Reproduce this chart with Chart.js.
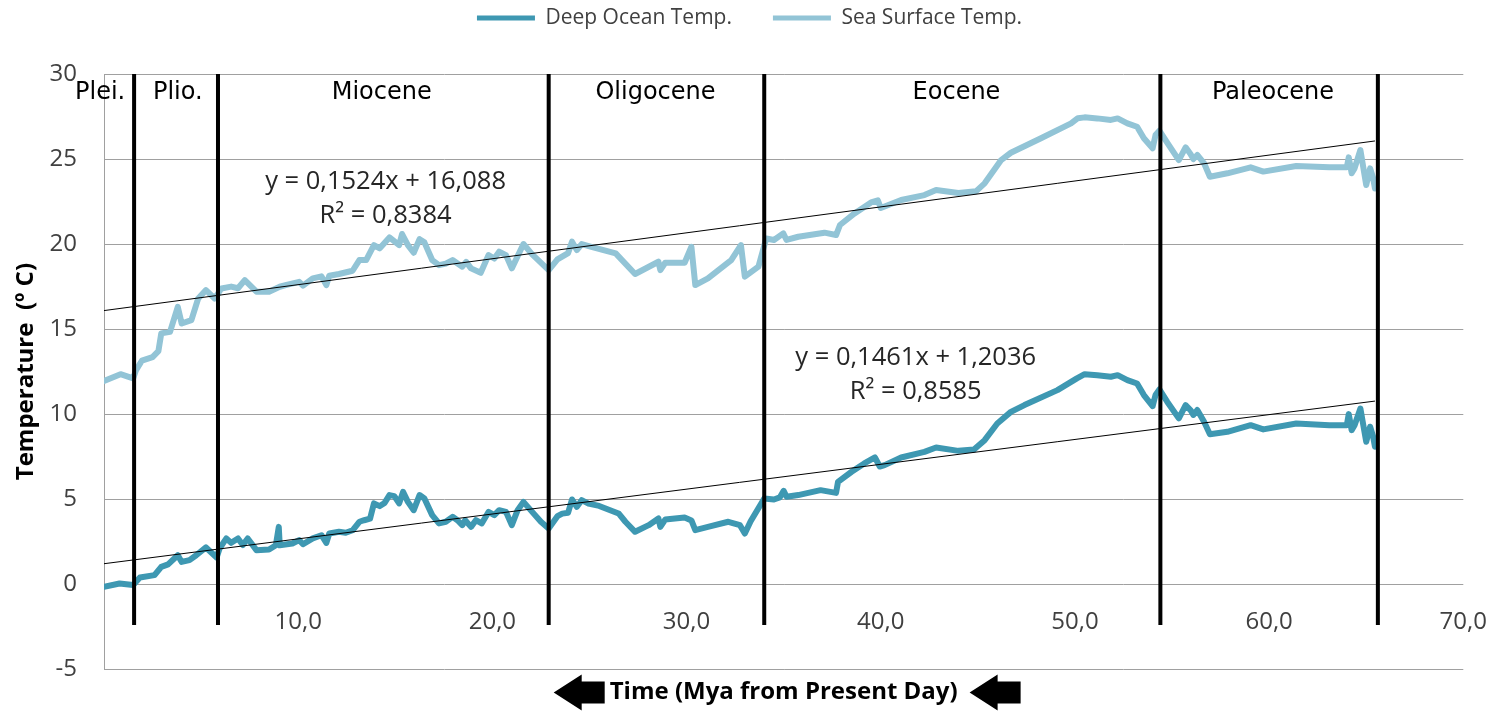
<!DOCTYPE html>
<html>
<head>
<meta charset="utf-8">
<script src="https://cdn.jsdelivr.net/npm/chart.js@4.4.1/dist/chart.umd.min.js"></script>
<style>
  html, body { margin: 0; padding: 0; background: #ffffff; }
  #wrap { width: 1511px; height: 720px; position: relative; }
</style>
</head>
<body>
<div id="wrap"><canvas id="chart"></canvas></div>
<script>
// Cenozoic temperature record (age in Mya, temperature in °C)
const seriesNames = ['Deep Ocean Temp.', 'Sea Surface Temp.'];

const dotAge = [0.0, 0.8, 1.5, 1.85, 2.6, 2.95, 3.3, 3.8, 4.0, 4.4, 4.75, 5.25, 5.8, 5.95, 6.3, 6.55, 6.9, 7.15, 7.4, 7.85,
  8.5, 8.85, 9.0, 9.05, 9.7, 10.05, 10.25, 10.75, 11.2, 11.45, 11.6, 12.1, 12.45, 12.8, 13.15, 13.4, 13.7, 13.9, 14.2, 14.45,
  14.7, 14.95, 15.2, 15.4, 15.65, 15.95, 16.25, 16.5, 16.9, 17.25, 17.6, 17.95, 18.2, 18.45, 18.6, 18.9, 19.15, 19.45, 19.8, 20.1,
  20.35, 20.7, 21.0, 21.3, 21.6, 22.05, 22.5, 22.9, 23.35, 23.6, 23.9, 24.1, 24.35, 24.6, 24.95, 25.5, 26.5, 26.85, 27.35, 28.05,
  28.55, 28.65, 28.9, 29.9, 30.25, 30.45, 31.1, 32.15, 32.75, 33.0, 33.3, 34.0, 34.5, 34.8, 35.0, 35.15, 35.75, 36.9, 37.7, 37.8,
  38.5, 39.15, 39.7, 39.95, 40.2, 41.05, 42.25, 42.85, 44.0, 44.8, 45.35, 46.0, 46.7, 47.4, 49.1, 50.1, 50.5, 51.15, 51.85, 52.2,
  52.7, 53.2, 53.55, 54.0, 54.15, 54.35, 54.75, 55.35, 55.7, 55.95, 56.1, 56.3, 56.65, 56.95, 57.85, 59.05, 59.7, 61.4, 63.1, 64.0,
  64.1, 64.25, 64.4, 64.7, 65.0, 65.2, 65.35, 65.45];
const dotTemp = [-0.15, 0.04, -0.05, 0.39, 0.53, 1.02, 1.16, 1.7, 1.31, 1.41, 1.7, 2.16, 1.57, 2.1, 2.69, 2.43, 2.69, 2.3, 2.69, 2.0,
  2.04, 2.29, 3.37, 2.29, 2.39, 2.59, 2.35, 2.69, 2.88, 2.43, 2.98, 3.08, 3.02, 3.17, 3.67, 3.76, 3.85, 4.75, 4.59, 4.78,
  5.24, 5.18, 4.75, 5.43, 4.84, 4.35, 5.24, 5.04, 4.06, 3.57, 3.67, 3.96, 3.76, 3.47, 3.76, 3.37, 3.76, 3.57, 4.25, 4.06,
  4.35, 4.25, 3.47, 4.35, 4.84, 4.25, 3.67, 3.27, 4.0, 4.15, 4.2, 4.98, 4.55, 4.94, 4.74, 4.6, 4.16, 3.67, 3.08, 3.47,
  3.86, 3.37, 3.8, 3.92, 3.75, 3.18, 3.37, 3.67, 3.47, 2.98, 3.7, 5.04, 4.98, 5.1, 5.49, 5.14, 5.24, 5.53, 5.37, 6.02,
  6.61, 7.1, 7.45, 6.92, 7.0, 7.45, 7.78, 8.04, 7.84, 7.92, 8.47, 9.45, 10.13, 10.53, 11.41, 12.1, 12.35, 12.29, 12.2, 12.29,
  12.0, 11.8, 11.12, 10.47, 11.12, 11.45, 10.73, 9.75, 10.53, 10.24, 9.95, 10.24, 9.55, 8.82, 8.96, 9.35, 9.1, 9.45, 9.35, 9.35,
  10.0, 9.06, 9.35, 10.33, 8.37, 9.26, 8.7, 8.08];

const sstAge = [0.0, 0.85, 1.5, 1.65, 1.95, 2.5, 2.8, 2.95, 3.4, 3.8, 4.0, 4.5, 4.85, 5.25, 5.7, 6.05, 6.55, 6.9, 7.25, 7.85,
  8.5, 9.05, 9.4, 10.05, 10.25, 10.75, 11.2, 11.45, 11.6, 12.1, 12.8, 13.15, 13.5, 13.9, 14.2, 14.7, 15.2, 15.35, 15.65, 15.95,
  16.25, 16.5, 16.9, 17.25, 17.6, 17.95, 18.45, 18.65, 18.9, 19.4, 19.8, 20.1, 20.35, 20.7, 21.0, 21.6, 22.05, 22.9, 23.35, 23.9,
  24.1, 24.35, 24.6, 25.1, 26.35, 27.35, 28.55, 28.65, 28.9, 29.9, 30.25, 30.45, 31.1, 32.3, 32.8, 33.0, 33.7, 34.1, 34.5, 34.98,
  35.15, 35.75, 37.1, 37.7, 37.9, 38.65, 39.5, 39.85, 40.0, 41.05, 42.25, 42.85, 44.0, 44.9, 45.35, 46.2, 46.7, 48.25, 49.8, 50.15,
  50.5, 51.15, 51.85, 52.2, 52.7, 53.2, 53.55, 54.0, 54.15, 54.35, 54.75, 55.35, 55.7, 55.95, 56.1, 56.3, 56.65, 56.95, 57.85, 59.05,
  59.7, 61.4, 63.1, 64.0, 64.1, 64.25, 64.4, 64.7, 65.0, 65.2, 65.35, 65.45];
const sstTemp = [11.95, 12.35, 12.1, 12.59, 13.14, 13.35, 13.7, 14.75, 14.84, 16.31, 15.33, 15.53, 16.8, 17.29, 16.8, 17.39, 17.5, 17.4, 17.88, 17.2,
  17.2, 17.49, 17.6, 17.78, 17.55, 17.98, 18.1, 17.59, 18.14, 18.24, 18.43, 19.06, 19.06, 19.94, 19.75, 20.39, 19.94, 20.59, 19.94, 19.49,
  20.29, 20.1, 19.06, 18.76, 18.85, 19.06, 18.67, 18.95, 18.57, 18.31, 19.35, 19.15, 19.55, 19.35, 18.57, 20.0, 19.39, 18.47, 19.1, 19.47,
  20.14, 19.65, 20.0, 19.84, 19.45, 18.24, 18.96, 18.47, 18.9, 18.9, 19.84, 17.59, 17.98, 19.06, 19.94, 18.08, 18.67, 20.33, 20.24, 20.63,
  20.24, 20.43, 20.67, 20.53, 21.12, 21.8, 22.45, 22.57, 22.12, 22.59, 22.88, 23.18, 23.0, 23.1, 23.57, 24.94, 25.37, 26.22, 27.1, 27.4,
  27.45, 27.39, 27.3, 27.39, 27.1, 26.9, 26.22, 25.63, 26.41, 26.67, 25.96, 24.94, 25.69, 25.3, 25.0, 25.24, 24.75, 23.96, 24.16, 24.51,
  24.26, 24.59, 24.51, 24.51, 25.1, 24.16, 24.45, 25.53, 23.47, 24.45, 23.9, 23.27];

// Linear trend fits: [deep ocean, sea surface]
const trendSlope = [0.1461, 0.1524];
const trendIntercept = [1.2036, 16.088];
const trendR2 = [0.8585, 0.8384];

// Epoch boundaries (Mya) and epoch names
const epochBoundaries = [1.55, 5.87, 22.9, 34.0, 54.4, 65.6];
const epochNames = ['Plei.', 'Plio.', 'Miocene', 'Oligocene', 'Eocene', 'Paleocene'];
const epochLabelAge = [-0.2, 3.8, 14.3, 28.4, 43.9, 60.2];
const epochLabelTemp = 28.9;
const boundaryBottom = -2.4;

// Where each trend equation is written (age, temperature of first line)
const equationAt = [[41.8, 13.3], [14.5, 23.65]];

const xTickValues = [0, 10, 20, 30, 40, 50, 60, 70];
const yTickValues = [-5, 0, 5, 10, 15, 20, 25, 30];

const colors = { deep: 'rgb(62,152,178)', surface: 'rgb(146,196,214)' };
const comma = v => String(v).replace('.', ',');

const zip = (xs, ys) => xs.map((x, i) => ({ x: x, y: ys[i] }));
const lastAge = Math.max(...dotAge);

const datasets = [];
// Epoch boundary lines
epochBoundaries.forEach(b => {
  datasets.push({
    label: 'boundary', data: [{ x: b, y: yTickValues[yTickValues.length - 1] }, { x: b, y: boundaryBottom }],
    borderColor: '#000000', borderWidth: 4, pointRadius: 0, borderCapStyle: 'butt', order: 0, legend: false, clip: false
  });
});
// Trend lines
[0, 1].forEach(i => {
  datasets.push({
    label: 'trend', data: [{ x: 0, y: trendIntercept[i] }, { x: lastAge, y: trendSlope[i] * lastAge + trendIntercept[i] }],
    borderColor: '#000000', borderWidth: 1, pointRadius: 0, order: 1, legend: false
  });
});
datasets.push({
  label: seriesNames[0], data: zip(dotAge, dotTemp), borderColor: colors.deep, backgroundColor: colors.deep,
  borderWidth: 6, pointRadius: 0, tension: 0, borderJoinStyle: 'round', borderCapStyle: 'round', order: 2, legend: true
});
datasets.push({
  label: seriesNames[1], data: zip(sstAge, sstTemp), borderColor: colors.surface, backgroundColor: colors.surface,
  borderWidth: 6, pointRadius: 0, tension: 0, borderJoinStyle: 'round', borderCapStyle: 'round', order: 3, legend: true
});

const annotations = {
  id: 'annotations',
  afterDatasetsDraw(chart) {
    const { ctx, scales: { x, y } } = chart;
    ctx.save();
    ctx.textAlign = 'center';
    ctx.textBaseline = 'middle';
    ctx.fillStyle = '#000000';
    ctx.font = '24px "DejaVu Sans"';
    epochNames.forEach((name, i) => {
      ctx.fillText(name, x.getPixelForValue(epochLabelAge[i]), y.getPixelForValue(epochLabelTemp));
    });
    ctx.font = '25.5px "Open Sans"';
    ctx.fillStyle = '#262626';
    equationAt.forEach((pos, i) => {
      const px = x.getPixelForValue(pos[0]);
      const py = y.getPixelForValue(pos[1]);
      ctx.fillText('y = ' + comma(trendSlope[i]) + 'x + ' + comma(trendIntercept[i]), px, py);
      ctx.fillText('R\u00B2 = ' + comma(trendR2[i]), px, py + 34);
    });
    ctx.restore();
  },
  afterDraw(chart) {
    // Arrows either side of the time axis title
    const { ctx, chartArea } = chart;
    const axis = chart.scales.xTitle;
    const t = axis.options.title;
    ctx.save();
    ctx.font = 'bold ' + t.font.size + 'px "Open Sans"';
    const w = ctx.measureText(t.text).width;
    const cx = (chartArea.left + chartArea.right) / 2;
    const cy = axis.bottom - t.padding.bottom - t.font.size * 1.2 / 2;
    const drawArrow = (tip, dir) => {
      const head = 28, body = 23, hh = 18, bh = 11;
      ctx.beginPath();
      ctx.moveTo(tip, cy);
      ctx.lineTo(tip + dir * head, cy - hh);
      ctx.lineTo(tip + dir * head, cy - bh);
      ctx.lineTo(tip + dir * (head + body), cy - bh);
      ctx.lineTo(tip + dir * (head + body), cy + bh);
      ctx.lineTo(tip + dir * head, cy + bh);
      ctx.lineTo(tip + dir * head, cy + hh);
      ctx.closePath();
      ctx.fill();
    };
    ctx.fillStyle = '#000000';
    drawArrow(cx - w / 2 - 5 - 51, 1);
    drawArrow(cx + w / 2 + 12, 1);
    ctx.restore();
  }
};

new Chart(document.getElementById('chart'), {
  type: 'line',
  data: { datasets: datasets },
  plugins: [annotations],
  options: {
    responsive: true,
    maintainAspectRatio: false,
    animation: false,
    parsing: true,
    layout: { padding: { top: -33.5, right: 44, bottom: 0, left: 32 } },
    plugins: {
      tooltip: { enabled: false },
      legend: {
        position: 'top',
        labels: {
          boxWidth: 58, boxHeight: 5, padding: 41,
          color: '#404040',
          font: { family: '"Open Sans"', size: 21 },
          filter: (item, data) => data.datasets[item.datasetIndex].legend === true,
          generateLabels(chart) {
            const items = Chart.defaults.plugins.legend.labels.generateLabels(chart);
            items.forEach(it => { it.lineWidth = 0; it.fillStyle = it.strokeStyle; });
            return items;
          }
        }
      }
    },
    scales: {
      x: {
        type: 'linear', position: { y: 0 }, min: 0, max: 70,
        afterBuildTicks: s => { s.ticks = xTickValues.map(v => ({ value: v })); },
        afterFit: s => { s.height = 0; },
        grid: { display: false, drawTicks: false },
        border: { display: false },
        ticks: {
          padding: 24, color: '#404040', font: { family: '"Open Sans"', size: 24 },
          callback: v => (v === 0 ? '' : v.toFixed(1).replace('.', ','))
        }
      },
      xTop: {
        type: 'linear', position: 'top', min: 0, max: 70, display: true,
        afterFit: s => { s.height = 35.5; },
        grid: { display: false, drawTicks: false }, border: { display: false }, ticks: { display: false }
      },
      xTitle: {
        type: 'linear', position: 'bottom', min: 0, max: 70, display: true,
        grid: { display: false, drawTicks: false }, border: { display: false }, ticks: { display: false },
        title: {
          display: true, text: 'Time (Mya from Present Day)', color: '#000000',
          font: { family: '"Open Sans"', size: 24, weight: 'bold' },
          padding: { top: 9, bottom: 13 }
        }
      },
      y: {
        type: 'linear', position: 'left', min: -5, max: 30,
        afterBuildTicks: s => { s.ticks = yTickValues.map(v => ({ value: v })); },
        afterFit: s => { s.width = 72; },
        grid: { color: '#a0a0a0', lineWidth: 1, drawTicks: false },
        border: { display: true, color: '#a0a0a0', width: 1 },
        ticks: {
          padding: 27, color: '#404040', font: { family: '"Open Sans"', size: 24 },
          callback: v => String(v)
        },
        title: {
          display: true, text: 'Temperature  (\u00BA C)', color: '#000000',
          font: { family: '"Open Sans"', size: 24, weight: 'bold' },
          padding: { top: -20.5, bottom: 0 }
        }
      }
    }
  }
});
</script>
</body>
</html>
